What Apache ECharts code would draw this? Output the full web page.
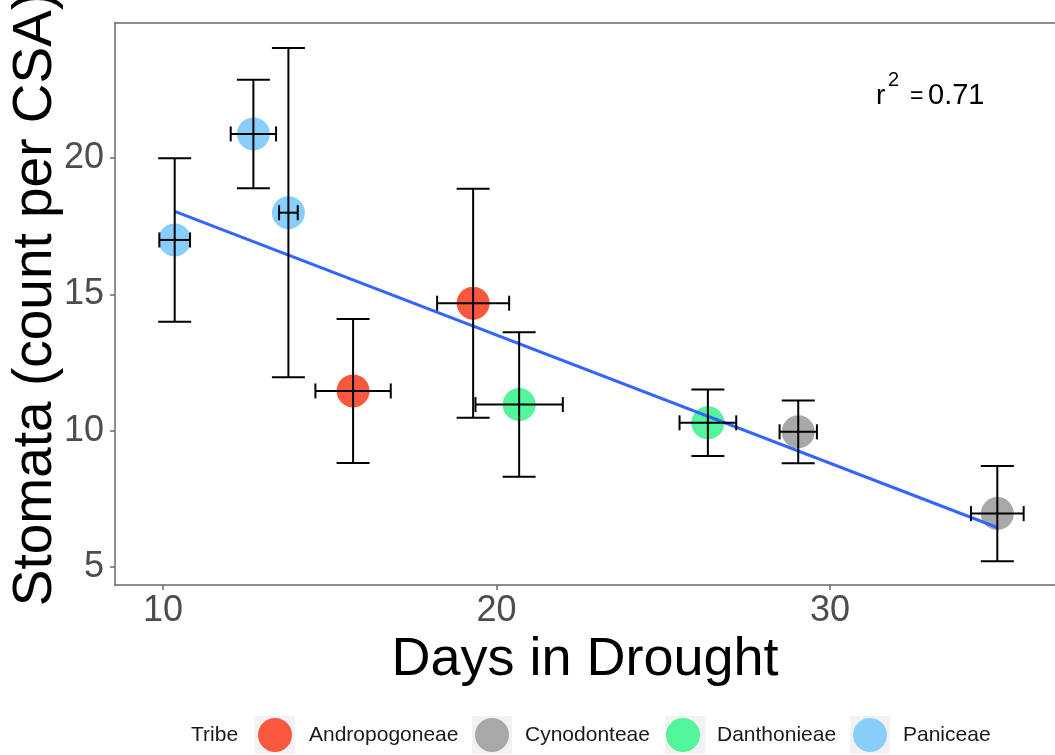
<!DOCTYPE html>
<html>
<head>
<meta charset="utf-8">
<title>Stomata vs Days in Drought</title>
<script src="https://cdn.jsdelivr.net/npm/echarts@6/dist/echarts.min.js"></script>
<style>
  html, body { margin: 0; padding: 0; background: #ffffff; }
  #chart { width: 1055px; height: 755px; }
</style>
</head>
<body>
<div id="chart"></div>
<script>
// Tribe legend order and fill colours
const tribes = ['Andropogoneae', 'Cynodonteae', 'Danthonieae', 'Paniceae'];
const tribeColors = ['#F9573E', '#A8A8A8', '#52F59A', '#87CEFA'];

// One entry per species: tribe, mean days in drought (± SE), mean stomata count (± SE)
const tribeOf = ['Paniceae', 'Paniceae', 'Paniceae', 'Andropogoneae', 'Andropogoneae',
                 'Danthonieae', 'Danthonieae', 'Cynodonteae', 'Cynodonteae'];
const days = [10.35, 12.71, 13.76, 15.70, 19.30, 20.68, 26.34, 29.05, 35.02];
const daysSE = [0.46, 0.68, 0.28, 1.13, 1.08, 1.31, 0.85, 0.56, 0.79];
const stomata = [17.0, 20.89, 18.0, 11.46, 14.68, 10.96, 10.29, 9.96, 6.96];
const stomataSE = [3.0, 1.99, 6.04, 2.64, 4.2, 2.65, 1.22, 1.15, 1.75];

// Linear fit endpoints and its r squared
const fitLine = [[10.35, 18.05], [35.02, 6.45]];
const rSquared = '0.71';

// Axis tick values
const xTicks = [10, 20, 30];
const yTicks = [5, 10, 15, 20];

const FONT = '"Liberation Sans", Arial, sans-serif';
const AXIS_GRAY = '#6a6a6a';
const LABEL_GRAY = '#4D4D4D';

const chart = echarts.init(document.getElementById('chart'), null, { renderer: 'canvas' });

const scatterSeries = tribes.map((t, i) => ({
  name: t,
  type: 'scatter',
  symbol: 'circle',
  symbolSize: 33,
  itemStyle: { color: tribeColors[i], opacity: 1 },
  z: 2,
  data: days.map((d, k) => tribeOf[k] === t ? [d, stomata[k]] : null).filter(v => v)
}));

const errorData = days.map((d, k) => [d, stomata[k], daysSE[k], stomataSE[k]]);

function renderErrorBar(params, api) {
  const x = api.value(0), y = api.value(1), xe = api.value(2), ye = api.value(3);
  const c = api.coord([x, y]);
  const top = api.coord([x, y + ye]);
  const bot = api.coord([x, y - ye]);
  const lft = api.coord([x - xe, y]);
  const rgt = api.coord([x + xe, y]);
  const capW = 16.5, capH = 7.5;
  const st = { stroke: '#000', lineWidth: 2 };
  return {
    type: 'group',
    children: [
      { type: 'line', shape: { x1: top[0], y1: top[1], x2: bot[0], y2: bot[1] }, style: st },
      { type: 'line', shape: { x1: top[0] - capW, y1: top[1], x2: top[0] + capW, y2: top[1] }, style: st },
      { type: 'line', shape: { x1: bot[0] - capW, y1: bot[1], x2: bot[0] + capW, y2: bot[1] }, style: st },
      { type: 'line', shape: { x1: lft[0], y1: c[1], x2: rgt[0], y2: c[1] }, style: st },
      { type: 'line', shape: { x1: lft[0], y1: c[1] - capH, x2: lft[0], y2: c[1] + capH }, style: st },
      { type: 'line', shape: { x1: rgt[0], y1: c[1] - capH, x2: rgt[0], y2: c[1] + capH }, style: st }
    ]
  };
}

// Legend: one component per tribe so each key sits at a fixed spot
const legendLefts = [258, 475, 666, 853];
const legendPads = [12, 11, 12, 11];
const legends = tribes.map((t, i) => ({
  data: [t],
  left: legendLefts[i],
  top: 718,
  padding: 0,
  itemWidth: 34,
  itemHeight: 34,
  icon: 'circle',
  selectedMode: false,
  textStyle: { fontFamily: FONT, fontSize: 21, color: '#1a1a1a', padding: [4, 0, 0, legendPads[i]] }
}));

const keyBoxes = [255, 472, 665, 850].map(x => ({
  type: 'rect',
  left: x, top: 716, z: -1,
  shape: { width: 40, height: 38 },
  style: { fill: '#F2F2F2' }
}));

const option = {
  backgroundColor: '#ffffff',
  animation: false,
  textStyle: { fontFamily: FONT },
  grid: { left: 115, top: 23, right: 0, bottom: 170, outerBoundsMode: 'none', containLabel: false },
  xAxis: [{
    type: 'value',
    min: 8.56, max: 36.75,
    name: 'Days in Drought',
    nameLocation: 'middle',
    nameGap: 48,
    nameMoveOverlap: false,
    nameTextStyle: { fontFamily: FONT, fontSize: 54, color: '#000' },
    axisLine: { show: true, lineStyle: { color: AXIS_GRAY, width: 1.5 } },
    axisTick: { show: true, length: 5, customValues: xTicks, lineStyle: { color: AXIS_GRAY, width: 1.5 } },
    axisLabel: { customValues: xTicks, fontFamily: FONT, fontSize: 36, color: LABEL_GRAY, margin: 8 },
    splitLine: { show: false }
  }, {
    type: 'value',
    position: 'top',
    min: 8.56, max: 36.75,
    axisLine: { show: true, lineStyle: { color: AXIS_GRAY, width: 1.5 } },
    axisTick: { show: false },
    axisLabel: { show: false },
    splitLine: { show: false }
  }],
  yAxis: {
    type: 'value',
    min: 4.34, max: 24.96,
    name: 'Stomata (count per CSA)',
    nameLocation: 'middle',
    nameGap: 52,
    nameMoveOverlap: false,
    nameTextStyle: { fontFamily: FONT, fontSize: 55, color: '#000', padding: [0, 0, 0, 10] },
    axisLine: { show: true, lineStyle: { color: AXIS_GRAY, width: 1.5 } },
    axisTick: { show: true, length: 5, customValues: yTicks, lineStyle: { color: AXIS_GRAY, width: 1.5 } },
    axisLabel: { customValues: yTicks, fontFamily: FONT, fontSize: 36, color: LABEL_GRAY, margin: 11 },
    splitLine: { show: false }
  },
  legend: legends,
  graphic: [
    ...keyBoxes,
    { type: 'text', left: 191, top: 725, style: { text: 'Tribe', font: '21px ' + FONT, fill: '#1a1a1a' } },
    { type: 'text', x: 876, y: 96, style: { text: 'r', font: '28px ' + FONT, fill: '#000', verticalAlign: 'middle' } },
    { type: 'text', x: 888, y: 80, style: { text: '2', font: '20px ' + FONT, fill: '#000', verticalAlign: 'middle' } },
    { type: 'text', x: 910, y: 97, style: { text: '=', font: '23px ' + FONT, fill: '#000', verticalAlign: 'middle' } },
    { type: 'text', x: 928, y: 96, style: { text: rSquared, font: '29px ' + FONT, fill: '#000', verticalAlign: 'middle' } }
  ],
  series: [
    ...scatterSeries,
    {
      name: 'fit',
      type: 'line',
      data: fitLine,
      symbol: 'none',
      lineStyle: { color: '#3366FF', width: 3 },
      z: 3,
      silent: true
    },
    {
      name: 'error',
      type: 'custom',
      renderItem: renderErrorBar,
      data: errorData,
      z: 4,
      silent: true
    }
  ]
};

chart.setOption(option);
</script>
</body>
</html>
